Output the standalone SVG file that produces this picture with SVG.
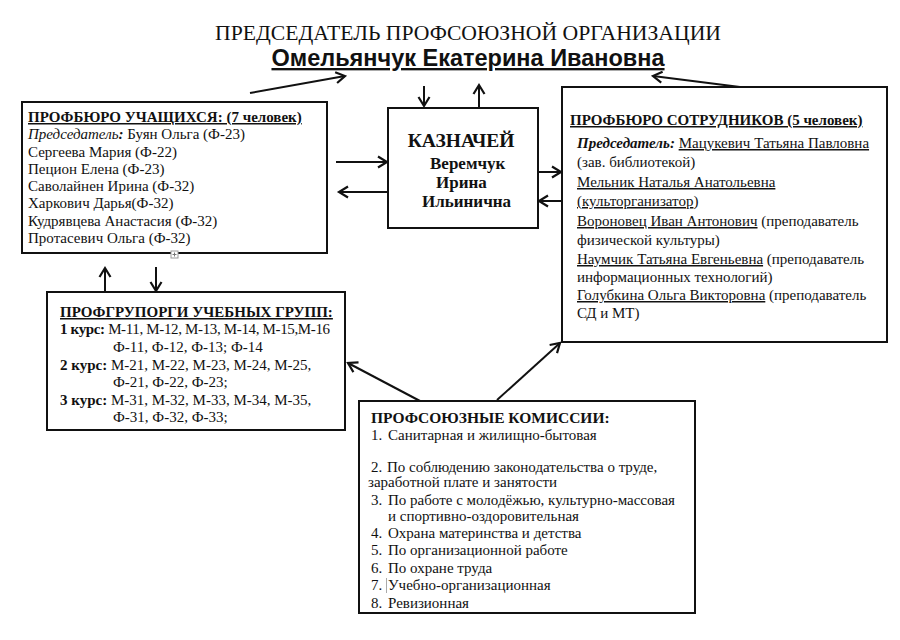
<svg xmlns="http://www.w3.org/2000/svg" width="900" height="640" viewBox="0 0 900 640">
<style>
.t{font-family:"Liberation Serif","Times New Roman",serif;font-size:15px;fill:#111}
.b{font-weight:bold}
.i{font-style:italic}
.u{text-decoration:underline}
.g{text-decoration:underline;text-decoration-color:#999}
.box{fill:#fff;stroke:#111;stroke-width:2}
.c line{stroke:#111;stroke-width:2;marker-end:url(#ah)}
</style>
<defs>
<marker id="ah" markerUnits="userSpaceOnUse" markerWidth="14" markerHeight="14" refX="11" refY="7" orient="auto">
<path d="M2,1.5 L11,7 L2,12.5" fill="none" stroke="#111" stroke-width="2.2"/>
</marker>
</defs>
<rect width="900" height="640" fill="#fff"/>

<g id="chairman">
<text x="468" y="40" text-anchor="middle" class="t" style="font-size:21.7px">ПРЕДСЕДАТЕЛЬ ПРОФСОЮЗНОЙ ОРГАНИЗАЦИИ</text>
<text x="468" y="66" text-anchor="middle" style="font-family:'Liberation Sans',Arial,sans-serif;font-weight:bold;font-size:23.5px;fill:#111;text-decoration:underline">Омельянчук Екатерина Ивановна</text>
</g>

<g id="students">
<rect x="22" y="102" width="305" height="151" class="box"/>
<text class="t"><tspan x="28" y="122" class="b u">ПРОФБЮРО УЧАЩИХСЯ: (7 человек)</tspan>
<tspan x="28" y="139"><tspan class="i">Председатель</tspan><tspan class="b i">:</tspan> Буян Ольга  (Ф-23)</tspan>
<tspan x="28" y="157">Сергеева Мария (Ф-22)</tspan>
<tspan x="28" y="174">Пецион Елена (Ф-23)</tspan>
<tspan x="28" y="191">Саволайнен Ирина (Ф-32)</tspan>
<tspan x="28" y="208">Харкович Дарья(Ф-32)</tspan>
<tspan x="28" y="226">Кудрявцева Анастасия (Ф-32)</tspan>
<tspan x="28" y="243">Протасевич Ольга (Ф-32)</tspan></text>
<rect x="171" y="251" width="7" height="7" fill="#fff" stroke="#999" stroke-width="1"/>
<path d="M172.5,254.5 H176.5 M174.5,252.5 V256.5" stroke="#777" stroke-width="1"/>
</g>

<g id="treasurer">
<rect x="388" y="108" width="150" height="120" class="box"/>
<text class="t b"><tspan x="463" y="147" text-anchor="middle" style="font-size:19.5px">КАЗНАЧЕЙ</tspan>
<tspan x="430" y="169" style="font-size:17px">Веремчук</tspan>
<tspan x="436" y="188" style="font-size:17px">Ирина</tspan>
<tspan x="422" y="207" style="font-size:17px">Ильинична</tspan></text>
</g>

<g id="staff">
<rect x="562" y="87" width="325" height="255" class="box"/>
<text class="t"><tspan x="570" y="125" class="b u">ПРОФБЮРО СОТРУДНИКОВ (5 человек)</tspan>
<tspan x="577" y="148"><tspan class="b i">Председатель:</tspan> <tspan class="g">Мацукевич Татьяна Павловна</tspan></tspan>
<tspan x="577" y="167">(зав. библиотекой)</tspan>
<tspan x="577" y="187" class="g">Мельник Наталья Анатольевна</tspan>
<tspan x="577" y="206"><tspan class="g">(культорганизатор</tspan>)</tspan>
<tspan x="577" y="226"><tspan class="g">Вороновец Иван Антонович</tspan> (преподаватель</tspan>
<tspan x="577" y="245">физической культуры)</tspan>
<tspan x="577" y="264"><tspan class="g">Наумчик Татьяна Евгеньевна</tspan> (преподаватель</tspan>
<tspan x="577" y="282">информационных технологий)</tspan>
<tspan x="577" y="300"><tspan class="g">Голубкина Ольга Викторовна</tspan> (преподаватель</tspan>
<tspan x="577" y="318">СД и МТ)</tspan></text>
</g>

<g id="grouporgs">
<rect x="47" y="292" width="298" height="138" class="box"/>
<text class="t"><tspan x="60" y="317" class="b u">ПРОФГРУПОРГИ УЧЕБНЫХ ГРУПП:</tspan>
<tspan x="60" y="334" style="letter-spacing:-0.35px"><tspan class="b">1 курс:</tspan> М-11, М-12, М-13, М-14, М-15,М-16</tspan>
<tspan x="113" y="352">Ф-11, Ф-12, Ф-13; Ф-14</tspan>
<tspan x="60" y="370"><tspan class="b">2 курс:</tspan> М-21, М-22, М-23, М-24, М-25,</tspan>
<tspan x="113" y="387">Ф-21, Ф-22, Ф-23;</tspan>
<tspan x="60" y="405"><tspan class="b">3 курс:</tspan> М-31, М-32, М-33, М-34, М-35,</tspan>
<tspan x="113" y="422">Ф-31, Ф-32, Ф-33;</tspan></text>
</g>

<g id="commissions">
<rect x="359" y="401" width="336" height="212" class="box"/>
<text class="t"><tspan x="371" y="423" class="b" style="font-size:15.5px">ПРОФСОЮЗНЫЕ КОМИССИИ:</tspan>
<tspan x="371" y="440">1.</tspan><tspan x="388" y="440">Санитарная и жилищно-бытовая</tspan>
<tspan x="371" y="472">2.</tspan><tspan x="387" y="472">По соблюдению законодательства о труде,</tspan>
<tspan x="368" y="487">заработной плате и занятости</tspan>
<tspan x="371" y="505">3.</tspan><tspan x="388" y="505">По работе с молодёжью, культурно-массовая</tspan>
<tspan x="388" y="521">и спортивно-оздоровительная</tspan>
<tspan x="371" y="538">4.</tspan><tspan x="388" y="538">Охрана материнства и детства</tspan>
<tspan x="371" y="555">5.</tspan><tspan x="388" y="555">По организационной работе</tspan>
<tspan x="371" y="573">6.</tspan><tspan x="388" y="573">По охране труда</tspan>
<tspan x="371" y="590">7.</tspan><tspan x="388" y="590">Учебно-организационная</tspan>
<tspan x="371" y="608">8.</tspan><tspan x="388" y="608">Ревизионная</tspan></text>
<line x1="386.5" y1="578" x2="386.5" y2="593" stroke="#aaa" stroke-width="1"/>
</g>

<g id="connectors" class="c">
<line x1="250" y1="93" x2="345" y2="76"/>
<line x1="424" y1="86" x2="424" y2="106"/>
<line x1="479" y1="108" x2="479" y2="85"/>
<line x1="740" y1="87" x2="653" y2="76"/>
<line x1="336" y1="162" x2="387" y2="162"/>
<line x1="388" y1="192" x2="339" y2="192"/>
<line x1="538" y1="172" x2="561" y2="172"/>
<line x1="562" y1="201" x2="539" y2="201"/>
<line x1="105" y1="292" x2="105" y2="268"/>
<line x1="156" y1="267" x2="156" y2="291"/>
<line x1="420" y1="401" x2="348" y2="363"/>
<line x1="497" y1="400" x2="560" y2="343"/>
</g>
</svg>
